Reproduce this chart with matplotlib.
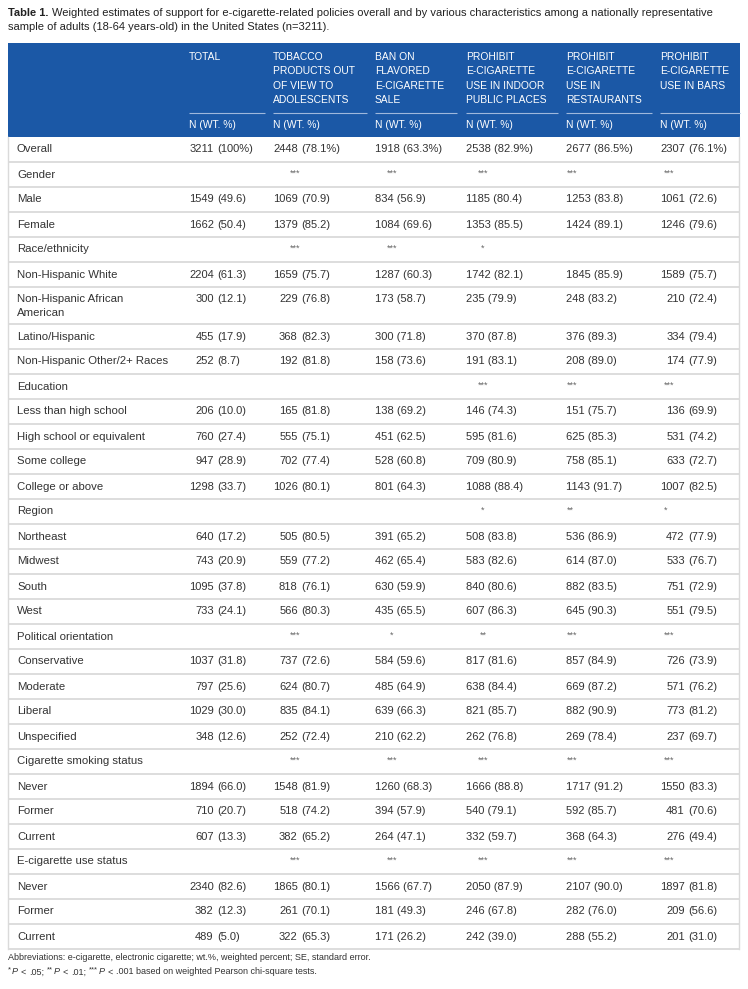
import matplotlib
matplotlib.use("Agg")
import matplotlib.pyplot as plt
from matplotlib.patches import Rectangle

plt.rcParams['font.family'] = ['Liberation Sans', 'DejaVu Sans']

# ---------------- data ----------------
title_bold = "Table 1."
title_line1 = ("Weighted estimates of support for e-cigarette-related policies overall and by various "
               "characteristics among a nationally representative")
title_line2 = "sample of adults (18-64 years-old) in the United States (n=3211)."

col_headers = [
    ["TOTAL"],
    ["TOBACCO", "PRODUCTS OUT", "OF VIEW TO", "ADOLESCENTS"],
    ["BAN ON", "FLAVORED", "E-CIGARETTE", "SALE"],
    ["PROHIBIT", "E-CIGARETTE", "USE IN INDOOR", "PUBLIC PLACES"],
    ["PROHIBIT", "E-CIGARETTE", "USE IN", "RESTAURANTS"],
    ["PROHIBIT", "E-CIGARETTE", "USE IN BARS"],
]
sub_header = "N (WT. %)"

groups = ["Gender", "Race/ethnicity", "Education", "Region", "Political orientation",
          "Cigarette smoking status", "E-cigarette use status"]
levels = [
    ["Male", "Female"],
    ["Non-Hispanic White", "Non-Hispanic African\nAmerican", "Latino/Hispanic",
     "Non-Hispanic Other/2+ Races"],
    ["Less than high school", "High school or equivalent", "Some college", "College or above"],
    ["Northeast", "Midwest", "South", "West"],
    ["Conservative", "Moderate", "Liberal", "Unspecified"],
    ["Never", "Former", "Current"],
    ["Never", "Former", "Current"],
]

# first value = Overall row, then levels in order
total_n = [3211, 1549, 1662, 2204, 300, 455, 252, 206, 760, 947, 1298, 640, 743, 1095, 733,
           1037, 797, 1029, 348, 1894, 710, 607, 2340, 382, 489]
total_pct = [100, 49.6, 50.4, 61.3, 12.1, 17.9, 8.7, 10.0, 27.4, 28.9, 33.7, 17.2, 20.9, 37.8,
             24.1, 31.8, 25.6, 30.0, 12.6, 66.0, 20.7, 13.3, 82.6, 12.3, 5.0]
tobacco_n = [2448, 1069, 1379, 1659, 229, 368, 192, 165, 555, 702, 1026, 505, 559, 818, 566,
             737, 624, 835, 252, 1548, 518, 382, 1865, 261, 322]
tobacco_pct = [78.1, 70.9, 85.2, 75.7, 76.8, 82.3, 81.8, 81.8, 75.1, 77.4, 80.1, 80.5, 77.2,
               76.1, 80.3, 72.6, 80.7, 84.1, 72.4, 81.9, 74.2, 65.2, 80.1, 70.1, 65.3]
ban_n = [1918, 834, 1084, 1287, 173, 300, 158, 138, 451, 528, 801, 391, 462, 630, 435,
         584, 485, 639, 210, 1260, 394, 264, 1566, 181, 171]
ban_pct = [63.3, 56.9, 69.6, 60.3, 58.7, 71.8, 73.6, 69.2, 62.5, 60.8, 64.3, 65.2, 65.4, 59.9,
           65.5, 59.6, 64.9, 66.3, 62.2, 68.3, 57.9, 47.1, 67.7, 49.3, 26.2]
indoor_n = [2538, 1185, 1353, 1742, 235, 370, 191, 146, 595, 709, 1088, 508, 583, 840, 607,
            817, 638, 821, 262, 1666, 540, 332, 2050, 246, 242]
indoor_pct = [82.9, 80.4, 85.5, 82.1, 79.9, 87.8, 83.1, 74.3, 81.6, 80.9, 88.4, 83.8, 82.6,
              80.6, 86.3, 81.6, 84.4, 85.7, 76.8, 88.8, 79.1, 59.7, 87.9, 67.8, 39.0]
rest_n = [2677, 1253, 1424, 1845, 248, 376, 208, 151, 625, 758, 1143, 536, 614, 882, 645,
          857, 669, 882, 269, 1717, 592, 368, 2107, 282, 288]
rest_pct = [86.5, 83.8, 89.1, 85.9, 83.2, 89.3, 89.0, 75.7, 85.3, 85.1, 91.7, 86.9, 87.0, 83.5,
            90.3, 84.9, 87.2, 90.9, 78.4, 91.2, 85.7, 64.3, 90.0, 76.0, 55.2]
bars_n = [2307, 1061, 1246, 1589, 210, 334, 174, 136, 531, 633, 1007, 472, 533, 751, 551,
          726, 571, 773, 237, 1550, 481, 276, 1897, 209, 201]
bars_pct = [76.1, 72.6, 79.6, 75.7, 72.4, 79.4, 77.9, 69.9, 74.2, 72.7, 82.5, 77.9, 76.7, 72.9,
            79.5, 73.9, 76.2, 81.2, 69.7, 83.3, 70.6, 49.4, 81.8, 56.6, 31.0]

# significance markers per group row (Gender ... E-cigarette use status)
total_stars = ["", "", "", "", "", "", ""]
tobacco_stars = ["***", "***", "", "", "***", "***", "***"]
ban_stars = ["***", "***", "", "", "*", "***", "***"]
indoor_stars = ["***", "*", "***", "*", "**", "***", "***"]
rest_stars = ["***", "", "***", "**", "***", "***", "***"]
bars_stars = ["***", "", "***", "*", "***", "***", "***"]

footnote1 = "Abbreviations: e-cigarette, electronic cigarette; wt.%, weighted percent; SE, standard error."
footnote2_runs = [("*", "sup"), ("P", "it"), ("<", "rm"), (".05;", "rm"), ("**", "sup"), ("P", "it"),
                  ("<", "rm"), (".01;", "rm"), ("***", "sup"), ("P", "it"), ("<", "rm"),
                  (".001 based on weighted Pearson chi-square tests.", "rm")]

# ---------------- layout ----------------
W, H = 748, 989
fig = plt.figure(figsize=(W / 100, H / 100), dpi=100)
ax = fig.add_axes([0, 0, 1, 1])
ax.set_xlim(0, W)
ax.set_ylim(H, 0)
ax.axis('off')
renderer = fig.canvas.get_renderer()

BLUE = '#1b58a6'
TXT = '#333333'
GRID = '#dadada'
FS = 8.0
LFS = 8.2
HFS = 7.4
TFS = 8.0

left, right = 8, 740
col_x = [189, 273, 375, 466, 566, 660]
# per-column alignment: 'paren' aligns on the opening parenthesis
col_mode = ['paren', 'paren', 'left', 'left', 'left', 'paren']
digit_w = 6.18
space_w = 3.09

# title
tb = ax.text(8, 13, title_bold, fontsize=TFS, fontweight='bold', color='#222222', va='center', ha='left')
bw = tb.get_window_extent(renderer).width
ax.text(8 + bw + 3.5, 13, title_line1, fontsize=TFS, color='#222222', va='center', ha='left')
ax.text(8, 27, title_line2, fontsize=TFS, color='#222222', va='center', ha='left')

# header
hdr_top, hdr_bot = 43, 137
ax.add_patch(Rectangle((left, hdr_top), right - left, hdr_bot - hdr_top, color=BLUE, lw=0))
line_ends = [265, 367, 457, 558, 652, 740]
for i, lines in enumerate(col_headers):
    for j, s in enumerate(lines):
        ax.text(col_x[i], 57 + j * 14.4, s, fontsize=HFS, color='white', va='center', ha='left')
    ax.plot([col_x[i], line_ends[i]], [113, 113], color='#9fb8dc', lw=0.8, solid_capstyle='butt')
    ax.text(col_x[i], 125.5, sub_header, fontsize=HFS, color='white', va='center', ha='left')

# body rows
columns_n = [total_n, tobacco_n, ban_n, indoor_n, rest_n, bars_n]
columns_pct = [total_pct, tobacco_pct, ban_pct, indoor_pct, rest_pct, bars_pct]
columns_stars = [total_stars, tobacco_stars, ban_stars, indoor_stars, rest_stars, bars_stars]
star_x = [None, (295, 'center'), (392, 'center'), (483, 'center'), (567, 'left'), (664, 'left')]

rows = [("Overall", 'data', 0)]
k = 1
for gi, g in enumerate(groups):
    rows.append((g, 'group', gi))
    for lv in levels[gi]:
        rows.append((lv, 'data', k))
        k += 1

ROW_H = 25
y = hdr_bot
seps = [y]
for label, kind, idx in rows:
    nlines = label.count('\n') + 1
    h = ROW_H + (nlines - 1) * 12
    yc = y + 12.5
    for li, part in enumerate(label.split('\n')):
        ax.text(17, yc + li * 13, part, fontsize=LFS, color=TXT, va='center', ha='left')
    if kind == 'data':
        for c in range(6):
            n = columns_n[c][idx]
            p = columns_pct[c][idx]
            if idx == 0:
                ptxt = "(100%)" if p == 100 else f"({p:.1f}%)"
            else:
                ptxt = f"({p:.1f})"
            if col_mode[c] == 'paren':
                anchor = col_x[c] + 4 * digit_w
                ax.text(anchor, yc, str(n), fontsize=FS, color=TXT, va='center', ha='right')
                ax.text(anchor + space_w, yc, ptxt, fontsize=FS, color=TXT, va='center', ha='left')
            else:
                ax.text(col_x[c], yc, f"{n} {ptxt}", fontsize=FS, color=TXT, va='center', ha='left')
    else:
        for c in range(1, 6):
            s = columns_stars[c][idx]
            if s:
                sx, ha = star_x[c]
                ax.text(sx, yc - 1, s, fontsize=6.5, color='#666666', va='center', ha=ha)
    y += h
    seps.append(y)

for sy in seps[1:]:
    ax.plot([left, right], [sy, sy], color=GRID, lw=1.3, solid_capstyle='butt')
ax.plot([left, left], [hdr_bot, seps[-1]], color=GRID, lw=1.0)
ax.plot([right - 0.5, right - 0.5], [hdr_bot, seps[-1]], color=GRID, lw=1.0)

# footnotes
FNS = 6.45
ax.text(8, 958, footnote1, fontsize=FNS, color='#333333', va='center', ha='left')
x = 8
fn_space = FNS * 0.278 * 100 / 72 + 0.6
for s, style in footnote2_runs:
    if style == 'sup':
        t = ax.text(x, 970, s, fontsize=5.6, color='#333333', va='center', ha='left')
        x += t.get_window_extent(renderer).width + 0.4
    elif style == 'it':
        t = ax.text(x, 972, s, fontsize=FNS, style='italic', color='#333333', va='center', ha='left')
        x += t.get_window_extent(renderer).width + fn_space
    else:
        t = ax.text(x, 972, s, fontsize=FNS, color='#333333', va='center', ha='left')
        x += t.get_window_extent(renderer).width + fn_space

fig.savefig("out.png", dpi=100, facecolor='white')
